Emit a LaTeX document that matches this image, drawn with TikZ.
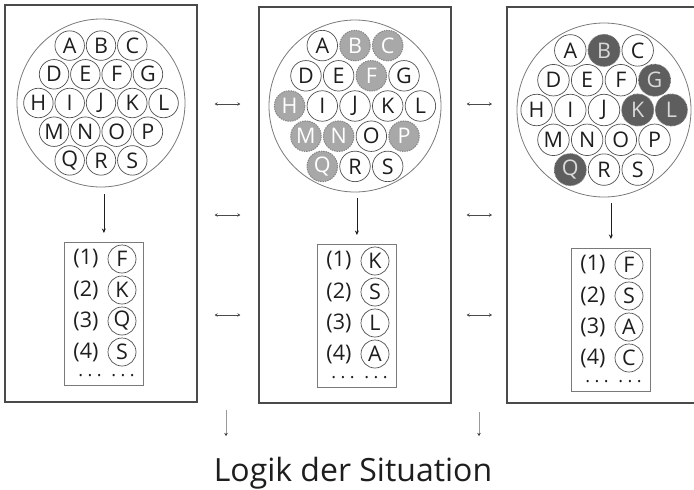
\documentclass[tikz,border=0pt]{standalone}
\usepackage{fontspec}
\setmainfont{Open Sans}
\usetikzlibrary{arrows.meta}

\definecolor{ink}{HTML}{1E1E1E}
\definecolor{frame}{HTML}{4A4A4A}
\definecolor{rim}{HTML}{7A7A7A}
\definecolor{ballrim}{HTML}{505050}
\definecolor{litefill}{HTML}{A8A8A8}
\definecolor{litedash}{HTML}{858585}
\definecolor{darkfill}{HTML}{5E5E5E}

% one disc of letters: prefix, cx, cy, dx, dy, outer diameter, ball diameter
\newcommand\lettercluster[7]{%
  \node[bigdisc, minimum size=#6] (#1big) at (#2,#3) {};
  \foreach \row/\n/\letters in {-2/3/{A,B,C},-1/4/{D,E,F,G},0/5/{H,I,J,K,L},1/4/{M,N,O,P},2/3/{Q,R,S}}{
    \foreach \L [count=\i from 0] in \letters {
      \node[ball, minimum size=#7, #1\L/.try] (#1\L) at ({#2+(\i-(\n-1)/2)*#4},{#3+\row*#5}) {\L};
    }
  }%
}

% ranked list: prefix, left, top, four letters
\newcommand\ranklist[7]{%
  \node[listbox, anchor=north west] (#1box) at (#2,#3) {};
  \foreach \k/\L in {1/#4,2/#5,3/#6,4/#7}{
    \node[listtxt] (#1n\k) at ({#2+22},{#3+17+(\k-1)*31}) {(\k)};
    \node[ball, minimum size=28] (#1l\k) at ({#2+58},{#3+17+(\k-1)*31}) {\L};
  }
  \node[dotstxt] (#1da) at ({#2+26},{#3+134}) {.\hspace{4.5pt}.\hspace{4.5pt}.};
  \node[dotstxt] (#1db) at ({#2+59},{#3+134}) {.\hspace{4.5pt}.\hspace{4.5pt}.};
}

\tikzset{
  bigdisc/.style={circle, draw=rim, line width=0.8pt, inner sep=0pt},
  ball/.style={circle, draw=ballrim, line width=0.7pt, inner sep=0pt, text=ink,
    font=\fontsize{21.5}{21.5}\selectfont},
  lite/.style={fill=litefill, draw=litedash, line width=1pt,
    dash pattern=on 1.4pt off 1pt, text=white},
  dark/.style={fill=darkfill, draw=darkfill, line width=1.3pt,
    dash pattern=on 0.7pt off 0.6pt, text=white!85!black},
  panel/.style={draw=frame, line width=1.3pt},
  listbox/.style={draw=rim, line width=0.8pt, minimum width=79, minimum height=143, inner sep=0pt},
  listtxt/.style={text=ink, font=\fontsize{21.5}{21.5}\selectfont, inner sep=0pt},
  dotstxt/.style={text=ink, font=\fontsize{18}{18}\selectfont, inner sep=0pt},
  arr/.style={draw=ink, line width=0.8pt, -{Stealth[length=4.5pt,width=4pt]}},
  link/.style={draw=frame, line width=0.9pt, {Stealth[length=3pt,width=3.5pt]}-{Stealth[length=3pt,width=3.5pt]}},
  down/.style={draw=black!40, line width=0.9pt, -{Stealth[length=3pt,width=3.5pt,color=black!80]}},
  % highlighted balls, second disc
  p2B/.style=lite, p2C/.style=lite, p2F/.style=lite, p2H/.style=lite,
  p2M/.style=lite, p2N/.style=lite, p2P/.style=lite, p2Q/.style=lite,
  % highlighted balls, third disc
  p3B/.style=dark, p3G/.style=dark, p3K/.style=dark, p3L/.style=dark, p3Q/.style=dark,
}

\begin{document}
\begin{tikzpicture}[x=1pt, y=-1pt]
\useasboundingbox (0,0) rectangle (694,490);

% frames
\node[panel, minimum width=192, minimum height=397, inner sep=0pt] (panel1) at (101,203.5) {};
\node[panel, minimum width=192, minimum height=396, inner sep=0pt] (panel2) at (355,205) {};
\coordinate (panel3nw) at (507,7);
\coordinate (panel3sw) at (507,403);
\coordinate (panel3w) at (507,205);
\draw[panel] (694,7) -- (panel3nw) -- (panel3sw) -- (694,403);

% discs of letters
\lettercluster{p1}{101}{103}{31.3}{28.7}{168}{29.5}
\lettercluster{p2}{355}{106}{32.7}{30.2}{172}{30.5}
\lettercluster{p3}{604}{110}{33.7}{29.8}{174}{31.5}

% ranked lists
\ranklist{p1}{64}{242}{F}{K}{Q}{S}
\ranklist{p2}{317}{244}{K}{S}{L}{A}
\ranklist{p3}{571}{248}{F}{S}{A}{C}

% disc -> list
\foreach \p/\g in {p1/7, p2/6, p3/6}{
  \draw[arr] (\p box.north |- \p big.south) ++(0,\g) -- ([yshift=9pt]\p box.north);
}

% links between frames
\foreach \yy in {104,215,315}{
  \draw[link, shorten <=17pt, shorten >=18pt] (panel1.east |- 0,\yy) -- (panel2.west |- 0,\yy);
  \draw[link, shorten <=15pt, shorten >=15pt] (panel2.east |- 0,\yy) -- (panel3w |- 0,\yy);
}

% small downward arrows
\coordinate (d1s) at (226,410);
\coordinate (d1e) at (226,436);
\coordinate (d2s) at (479,412);
\coordinate (d2e) at (479,436);
\draw[down] (d1s) -- (d1e);
\draw[down] (d2s) -- (d2e);

% caption
\node[anchor=base, text=ink, font=\fontsize{32}{36}\selectfont, inner sep=0pt] (title) at (353,481) {Logik der Situation};
\end{tikzpicture}
\end{document}
